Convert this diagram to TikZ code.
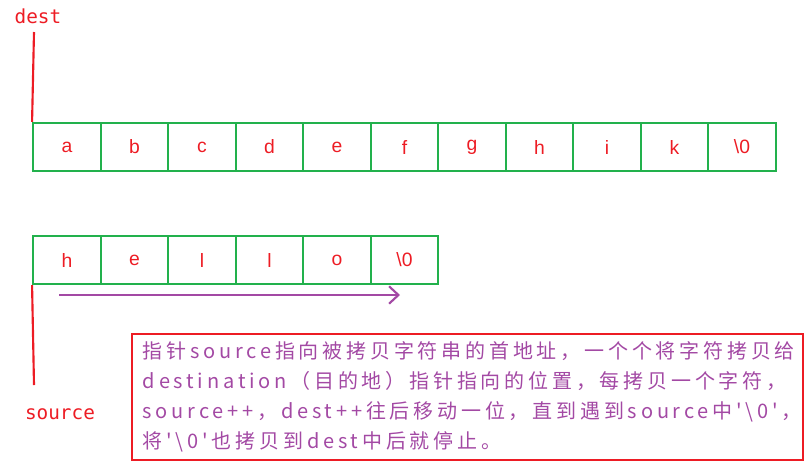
\documentclass[tikz,border=0pt]{standalone}
\usepackage{fontspec}
\setmainfont{Liberation Sans}
\newfontfamily\cjkfont[LetterSpace=19]{Noto Sans CJK SC}
\newfontfamily\labelfont{DejaVu Sans Mono}
\usetikzlibrary{arrows.meta,positioning}
\definecolor{cellgreen}{RGB}{34,177,76}
\definecolor{markred}{RGB}{237,28,36}
\definecolor{notepurple}{RGB}{163,73,164}
\newcommand{\sq}{\char"27\relax}

\begin{document}
\begin{tikzpicture}[x=0.75pt,y=-0.75pt,
    cell/.style={rectangle,draw=cellgreen,line width=1.8pt,minimum width=50.6pt,minimum height=36pt,inner sep=0pt,text=markred,font=\fontsize{14.5}{16}\selectfont},
    ptrlabel/.style={text=markred,font=\labelfont\fontsize{14.5}{16}\selectfont,inner sep=1pt},
    note/.style={rectangle,draw=markred,line width=1.5pt,text width=487pt,inner xsep=8pt,minimum height=94.5pt,align=left,text=notepurple,font=\cjkfont\fontsize{15}{22.5}\selectfont}]
        \useasboundingbox (0,0) rectangle (810,462);

        % destination string
        \node[cell] (d1) at (67,147) {a};
        \node[cell] (d2) at (134.5,147) {b};
        \node[cell] (d3) at (202,147) {c};
        \node[cell] (d4) at (269.5,147) {d};
        \node[cell] (d5) at (337,147) {e};
        \node[cell] (d6) at (404.5,147) {f};
        \node[cell] (d7) at (472,147) {g};
        \node[cell] (d8) at (539.5,147) {h};
        \node[cell] (d9) at (607,147) {i};
        \node[cell] (d10) at (674.5,147) {k};
        \node[cell] (d11) at (742,147) {\textbackslash0};

        % source string
        \node[cell] (s1) at (67,260) {h};
        \node[cell] (s2) at (134.5,260) {e};
        \node[cell] (s3) at (202,260) {l};
        \node[cell] (s4) at (269.5,260) {l};
        \node[cell] (s5) at (337,260) {o};
        \node[cell] (s6) at (404.5,260) {\textbackslash0};

        % pointers
        \node[ptrlabel] (dest) at (38,16) {dest};
        \node[ptrlabel] (source) at (60,414) {source};
        \coordinate (desttop) at (34,32);
        \coordinate (srcend) at (34,385);
        \draw[markred,line width=1.6pt] (desttop) -- (d1.north west);
        \draw[markred,line width=1.6pt] (s1.south west) -- (srcend);

        % copy direction
        \coordinate (mvstart) at (59,295);
        \coordinate (mvend) at (400,295);
        \draw[-{Straight Barb[length=7pt,width=13pt]},notepurple,line width=1.6pt] (mvstart) -- (mvend);

        % explanation
        \node[note] (expl) at (467.5,397) {指针source指向被拷贝字符串的首地址，一个个将字符拷贝给\\
destination（目的地）指针指向的位置，每拷贝一个字符，\\
source++，dest++往后移动一位，直到遇到source中\sq\textbackslash0\sq{}，\\
将\sq\textbackslash0\sq{}也拷贝到dest中后就停止。};
    \end{tikzpicture}
\end{document}
